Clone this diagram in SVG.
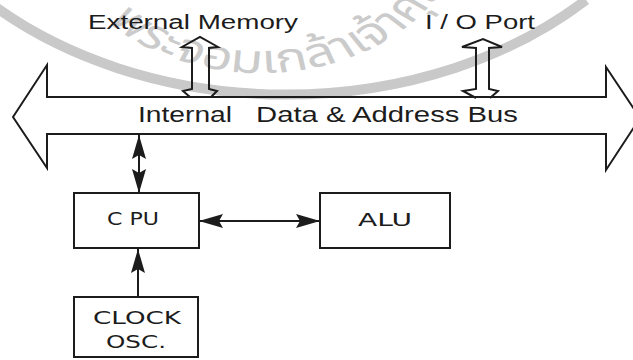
<svg xmlns="http://www.w3.org/2000/svg" width="633" height="360" viewBox="0 0 633 360">
<style>
.ln{fill:none;stroke:#1c1c1c;stroke-width:2;stroke-linejoin:miter}
.box{fill:#fff;stroke:#1c1c1c;stroke-width:2}
.hdr{font-family:"Liberation Sans",Arial,sans-serif;font-size:20px;fill:#1c1c1c}
.bus{font-family:"Liberation Sans",Arial,sans-serif;font-size:22px;fill:#1c1c1c}
.lbl{font-family:"DejaVu Sans",Verdana,sans-serif;font-size:18px;fill:#1c1c1c}
.wm{fill:none;stroke:#c9c9c9;stroke-width:10}
.wmt{font-family:"Noto Sans Thai","Noto Sans",sans-serif;font-size:40px;fill:#cbcbcb}
</style>
<defs>
<marker id="ah" viewBox="0 0 24 14" refX="24" refY="7" markerWidth="24" markerHeight="14" markerUnits="userSpaceOnUse" orient="auto-start-reverse">
<path d="M0,0 L24,7 L0,14 L4,7 z" fill="#1c1c1c"/>
</marker>
<path id="wmpath" d="M 43,-77 A 150 150 0 0 0 343,-77"/>
</defs>
<rect width="633" height="360" fill="#fff"/>
<g id="watermark">
<path class="wm" d="M -14,0 A 420 315 0 0 0 586,0"/>
<text class="wmt" transform="scale(1.35,1)"><textPath href="#wmpath" startOffset="107">พระจอมเกล้าเจ้าคุณ</textPath></text>
</g>
<g id="connectors">
<polyline class="ln" points="190,97 183,91 192,89 192,48 182,47 200,37 218,47 209,48 209,89 217,91 211,97"/>
<polyline class="ln" points="476,98 463,91 476,89 476,48 462,47 483,39 502,47 489,48 489,89 498,91 490,98"/>
<line class="ln" x1="139" y1="135" x2="139" y2="193" marker-start="url(#ah)" marker-end="url(#ah)"/>
<line class="ln" x1="199" y1="221" x2="320" y2="221" marker-start="url(#ah)" marker-end="url(#ah)"/>
<line class="ln" x1="138" y1="297" x2="138" y2="249" marker-end="url(#ah)"/>
</g>
<g id="bus">
<polygon class="ln" points="13,117 47,65 47,97 606,97 606,67 640,118 606,170 606,134 47,134 47,168"/>
<text class="bus" x="138" y="122" textLength="94" lengthAdjust="spacingAndGlyphs">Internal</text>
<text class="bus" x="256" y="122" textLength="262" lengthAdjust="spacingAndGlyphs">Data &amp; Address Bus</text>
</g>
<g id="ext-mem">
<text class="hdr" x="88" y="29" textLength="210" lengthAdjust="spacingAndGlyphs">External Memory</text>
</g>
<g id="io-port">
<text class="hdr" x="425" y="29" textLength="110" lengthAdjust="spacingAndGlyphs">I / O Port</text>
</g>
<g id="cpu">
<rect class="box" x="74" y="193" width="125" height="55"/>
<text class="lbl" x="107" y="225" textLength="52" lengthAdjust="spacingAndGlyphs">C PU</text>
</g>
<g id="alu">
<rect class="box" x="320" y="193" width="130" height="55"/>
<text class="lbl" x="358" y="226" textLength="54" lengthAdjust="spacingAndGlyphs">ALU</text>
</g>
<g id="clock">
<rect class="box" x="74" y="297" width="124" height="60"/>
<text class="lbl" x="93" y="324" textLength="88" lengthAdjust="spacingAndGlyphs">CLOCK</text>
<text class="lbl" x="106" y="348" textLength="60" lengthAdjust="spacingAndGlyphs">OSC.</text>
</g>
</svg>
